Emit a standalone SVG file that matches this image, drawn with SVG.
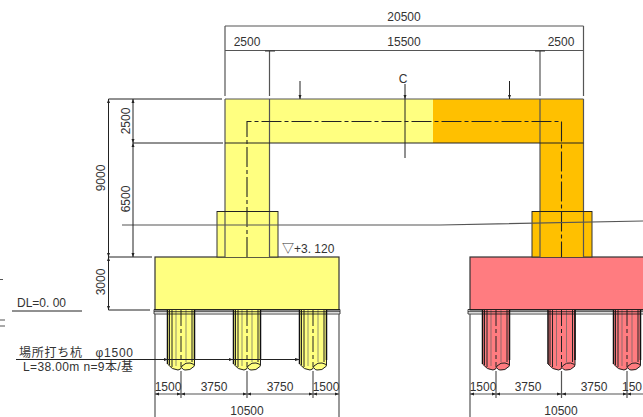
<svg xmlns="http://www.w3.org/2000/svg" xmlns:xlink="http://www.w3.org/1999/xlink" width="643" height="417" viewBox="0 0 643 417">
<style>
text{font-family:"Liberation Sans","Noto Sans CJK JP",sans-serif;font-size:12px;fill:#333}
.m{text-anchor:middle}
.l{stroke:#222;stroke-width:1;fill:none}
.g{stroke:#555;stroke-width:1.2;fill:none}
.c{stroke:#222;stroke-width:1.1;fill:none;stroke-dasharray:20 3 4 3}
.y{fill:#ffff80}.o{fill:#ffc000}.p{fill:#ff7c80}
.s{stroke:#333;stroke-width:1.2}
.h{fill:#222}
.b{stroke:#111;stroke-width:.8;fill:none}
</style>
<defs>
<g id="pile">
<path d="M-13.500 0V54Q-9 60 -3 60Q0 60 1 58Q2 60 4 60Q9 61 13.500 56V0Z" stroke="none"/>
<path d="M-11.500 0V55M-9 0V57M13.500 0V55M11 0V52M-13.500 54Q-9 60 -3 60Q0 60 1 56Q5 52 9 53Q14 54 13.500 56Q9 61 4 60Q2 60 1 58" fill="none" stroke="#222" stroke-width="1"/>
<path d="M-13.500 0V54M13.500 0V50" fill="none" stroke="#111" stroke-width="1.500"/>
<path d="M-5 0V56M5 0V52" fill="none" stroke="#666" stroke-width="0.700"/>
<path d="M0 0V57" fill="none" stroke="#222" stroke-dasharray="16 3 4 3"/>
</g>
</defs>

<g id="left-footing">
<rect class="y s" x="155" y="257" width="184" height="53"/>
</g>
<g id="right-footing">
<rect class="p s" x="470" y="257" width="175" height="53"/>
</g>
<g id="left-pedestal"><rect class="y" x="217" y="211.500" width="61" height="45.500" stroke="#333"/></g>
<g id="right-pedestal"><rect class="o" x="532" y="211.500" width="60" height="45.500" stroke="#333"/></g>
<g id="frame">
<path class="y" d="M225 99H433V143H269.500V257H225Z"/>
<path class="o" d="M433 99H583.500V257H540V143H433Z"/>
<path class="g" d="M225 99V257M269.500 99V257M540 99V257M583.500 99V257"/>
<path class="g" d="M225 99H583.500"/>
<path class="l" d="M225 143H583.500M217 211.500H278M532 211.500H592"/>
</g>
<g id="piles">
<use xlink:href="#pile" x="181" y="310" class="y"/>
<use xlink:href="#pile" x="247" y="310" class="y"/>
<use xlink:href="#pile" x="313" y="310" class="y"/>
<use xlink:href="#pile" x="496" y="310" class="p"/>
<use xlink:href="#pile" x="561.500" y="310" class="p"/>
<use xlink:href="#pile" x="627" y="310" class="p"/>
</g>
<g id="bands">
<path class="b" d="M154 309.500H340V314H154ZM154 311.700H340M468 309.500H643M468 314H643M468 311.700H643M468 309.500V314"/>
</g>
<g id="connectors">
<path class="c" d="M247 257V121.500H561.500V257"/>
<path class="l" d="M405 84V158"/>
<path class="g" d="M122 225H440L643 221"/>
<path class="g" d="M225 26V96M269.500 50V96M583.500 26V96M540 50V96"/>
<path class="g" d="M225 26H583.500M225 50.500H583.500"/>
<path class="s" d="M265 51H275M535 51H545" stroke-width="1.500"/>
<path class="l" d="M300 81V99M509.500 81V99"/>
<path class="h" d="M298.500 95H301.500L300 99ZM508 95H511L509.500 99ZM403.500 95H406.500L405 99Z"/>
<path class="l" d="M108.500 99H222M108.500 99V310M133 99V257M133 143H223M108.500 257H152M108.500 310H150"/>
<path class="h" d="M107 103L108.500 99L110 103ZM131.500 103L133 99L134.500 103ZM131.500 139L133 143L134.500 139ZM131.500 147L133 143L134.500 147ZM131.500 253L133 257L134.500 253ZM107 253L108.500 257L110 253ZM107 261L108.500 257L110 261ZM107 306L108.500 310L110 306Z"/>
<path class="g" d="M155 314V417M339 314V417M470 314V417M181 371V398M247 371V398M313 371V398M496 371V398M561.500 371V398M627 371V398"/>
<path class="g" d="M155 394H339M470 394H643"/>
<path class="h" d="M159 392.500L155 394L159 395.500ZM177 392.500L181 394L177 395.500ZM185 392.500L181 394L185 395.500ZM243 392.500L247 394L243 395.500ZM251 392.500L247 394L251 395.500ZM309 392.500L313 394L309 395.500ZM317 392.500L313 394L317 395.500ZM335 392.500L339 394L335 395.500ZM474 392.500L470 394L474 395.500ZM492 392.500L496 394L492 395.500ZM500 392.500L496 394L500 395.500ZM557 392.500L561.500 394L557 395.500ZM566 392.500L561.500 394L566 395.500ZM623 392.500L627 394L623 395.500ZM631 392.500L627 394L631 395.500Z"/>
<path class="l" d="M12 311H82M16 359.500H300"/>
<path class="h" d="M164 358V361L168 359.500ZM229 358V361L233 359.500ZM295 358V361L300 359.500Z"/>
<path class="g" d="M0 279.500H3M0 320H5M0 326H5"/>
</g>
<g id="labels">
<text class="m" x="404" y="21">20500</text>
<text class="m" x="247" y="46">2500</text>
<text class="m" x="404" y="46">15500</text>
<text class="m" x="561" y="46">2500</text>
<text class="m" x="403" y="83">C</text>
<text class="m" transform="translate(130 121) rotate(-90)">2500</text>
<text class="m" transform="translate(130 199) rotate(-90)">6500</text>
<text class="m" transform="translate(105 178) rotate(-90)">9000</text>
<text class="m" transform="translate(105 282) rotate(-90)">3000</text>
<text x="282" y="253">▽+3. 120</text>
<text x="17" y="307">DL=0. 00</text>
<text x="19" y="357" textLength="114">場所打ち杭　φ1500</text>
<text x="23" y="371" textLength="110">L=38.00m n=9本/基</text>
<text class="m" x="168" y="391">1500</text>
<text class="m" x="214" y="391">3750</text>
<text class="m" x="280" y="391">3750</text>
<text class="m" x="326" y="391">1500</text>
<text class="m" x="247" y="415">10500</text>
<text class="m" x="483" y="391">1500</text>
<text class="m" x="528" y="391">3750</text>
<text class="m" x="594" y="391">3750</text>
<text x="622" y="391">150</text>
<text class="m" x="561" y="415">10500</text>
</g>
</svg>
